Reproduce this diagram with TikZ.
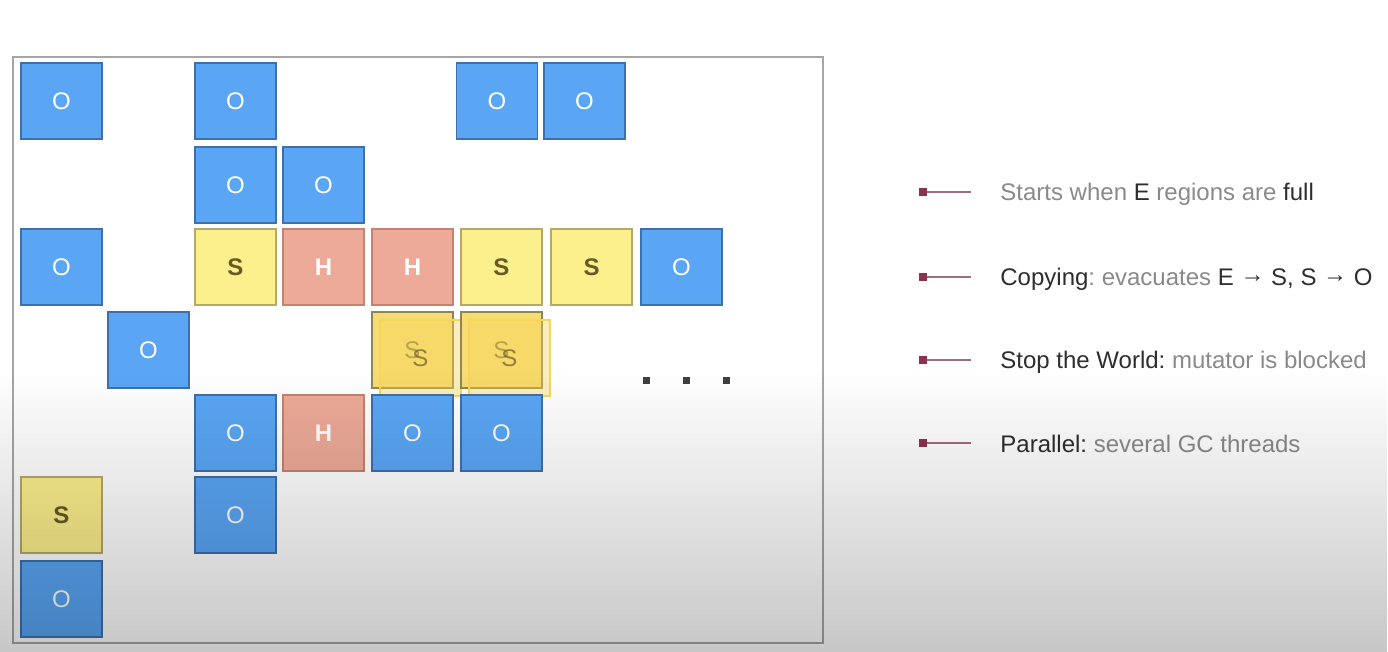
\documentclass[tikz,border=0pt]{standalone}
\usepackage{fontspec}
\setsansfont{Liberation Sans}
\usetikzlibrary{fadings}
\definecolor{oblue}{RGB}{90,166,245}
\definecolor{obluedraw}{RGB}{62,112,170}
\definecolor{syellow}{RGB}{252,240,140}
\definecolor{syellowdraw}{RGB}{180,168,106}
\definecolor{stext}{RGB}{104,90,40}
\definecolor{hred}{RGB}{238,170,152}
\definecolor{hreddraw}{RGB}{196,130,112}
\definecolor{ssyellow}{RGB}{246,214,90}
\definecolor{maroon}{RGB}{140,50,80}
\definecolor{legline}{RGB}{160,110,125}
\definecolor{lgray}{RGB}{138,138,138}
\definecolor{ldark}{RGB}{46,46,46}
\newcommand{\toarrow}{\raisebox{1.6pt}{→}}
\tikzset{%
    region/.style={minimum width=40.5pt, minimum height=38pt, inner sep=0pt,
        line width=0.6pt, font=\sffamily\fontsize{12}{14}\selectfont},
    old/.style={region, fill=oblue, draw=obluedraw, text=white},
    surv/.style={region, fill=syellow, draw=syellowdraw, text=stext,
        font=\sffamily\bfseries\fontsize{12}{14}\selectfont},
    hum/.style={region, fill=hred, draw=hreddraw, text=white,
        font=\sffamily\bfseries\fontsize{12}{14}\selectfont},
    copied/.style={region, fill=ssyellow, draw=syellowdraw!80!black, fill opacity=0.85,
        text=stext, text opacity=0.7},
    legtext/.style={anchor=base west, inner sep=0pt, text=lgray,
        font=\sffamily\fontsize{12}{14}\selectfont\frenchspacing},
    marker/.style={fill=maroon, minimum size=4pt, inner sep=0pt},
}

\begin{document}
\begin{tikzpicture}[x=0.5pt,y=-0.5pt]
    \useasboundingbox (0,0) rectangle (1388,652);
    \fill[white] (0,0) rectangle (1388,652);
    \draw[line width=1pt, gray!70] (13,57) rectangle (823,643);

    % row 0
    \node[old] (o00) at (61.5,101) {O};
    \node[old] (o02) at (235.5,101) {O};
    \node[old] (o05) at (497,101) {O};
    \node[old] (o06) at (584.5,101) {O};
    % row 1
    \node[old] (o12) at (235.5,185) {O};
    \node[old] (o13) at (323.5,185) {O};
    % row 2
    \node[old] (o20) at (61.5,267) {O};
    \node[surv] (s22) at (235.5,267) {S};
    \node[hum] (h23) at (323.5,267) {H};
    \node[hum] (h24) at (412.5,267) {H};
    \node[surv] (s25) at (501.5,267) {S};
    \node[surv] (s26) at (591.5,267) {S};
    \node[old] (o27) at (681.5,267) {O};
    % row 3
    \node[old] (o31) at (148.5,350) {O};
    \node[copied] (s34) at (412.5,350) {S};
    \node[copied, fill opacity=0.4, draw=ssyellow] (t34) at (420.5,358) {S};
    \node[copied] (s35) at (501.5,350) {S};
    \node[copied, fill opacity=0.4, draw=ssyellow] (t35) at (509.5,358) {S};
    \foreach \x in {646,686,726}
        \fill[black!75] (\x-3.5,377.5) rectangle (\x+3.5,384.5);
    % row 4
    \node[old] (o42) at (235.5,433) {O};
    \node[hum] (h43) at (323.5,433) {H};
    \node[old] (o44) at (412.5,433) {O};
    \node[old] (o45) at (501.5,433) {O};
    % row 5
    \node[surv] (s50) at (61.5,515) {S};
    \node[old] (o52) at (235.5,515) {O};
    % row 6
    \node[old] (o60) at (61.5,599) {O};

    % legend
    \node[marker] (m1) at (923,192) {};
    \coordinate (e1) at (971,192);
    \draw[legline, line width=1pt] (m1) -- (e1);
    \node[legtext] (l1) at (1000,201) {Starts when \textcolor{ldark}{E} regions are \textcolor{ldark}{full}};

    \node[marker] (m2) at (923,277) {};
    \coordinate (e2) at (971,277);
    \draw[legline, line width=1pt] (m2) -- (e2);
    \node[legtext] (l2) at (1000,286) {\textcolor{ldark}{Copying}: evacuates \textcolor{ldark}{E \toarrow{} S, S \toarrow{} O}};

    \node[marker] (m3) at (923,360) {};
    \coordinate (e3) at (971,360);
    \draw[legline, line width=1pt] (m3) -- (e3);
    \node[legtext] (l3) at (1000,369) {\textcolor{ldark}{Stop the World:} mutator is blocked};

    \node[marker] (m4) at (923,443) {};
    \coordinate (e4) at (971,443);
    \draw[legline, line width=1pt] (m4) -- (e4);
    \node[legtext] (l4) at (1000,452) {\textcolor{ldark}{Parallel:} several GC threads};

    % darkening towards the bottom
    \fill[black, opacity=0.22, path fading=north] (0,370) rectangle (1388,652);
\end{tikzpicture}
\end{document}
